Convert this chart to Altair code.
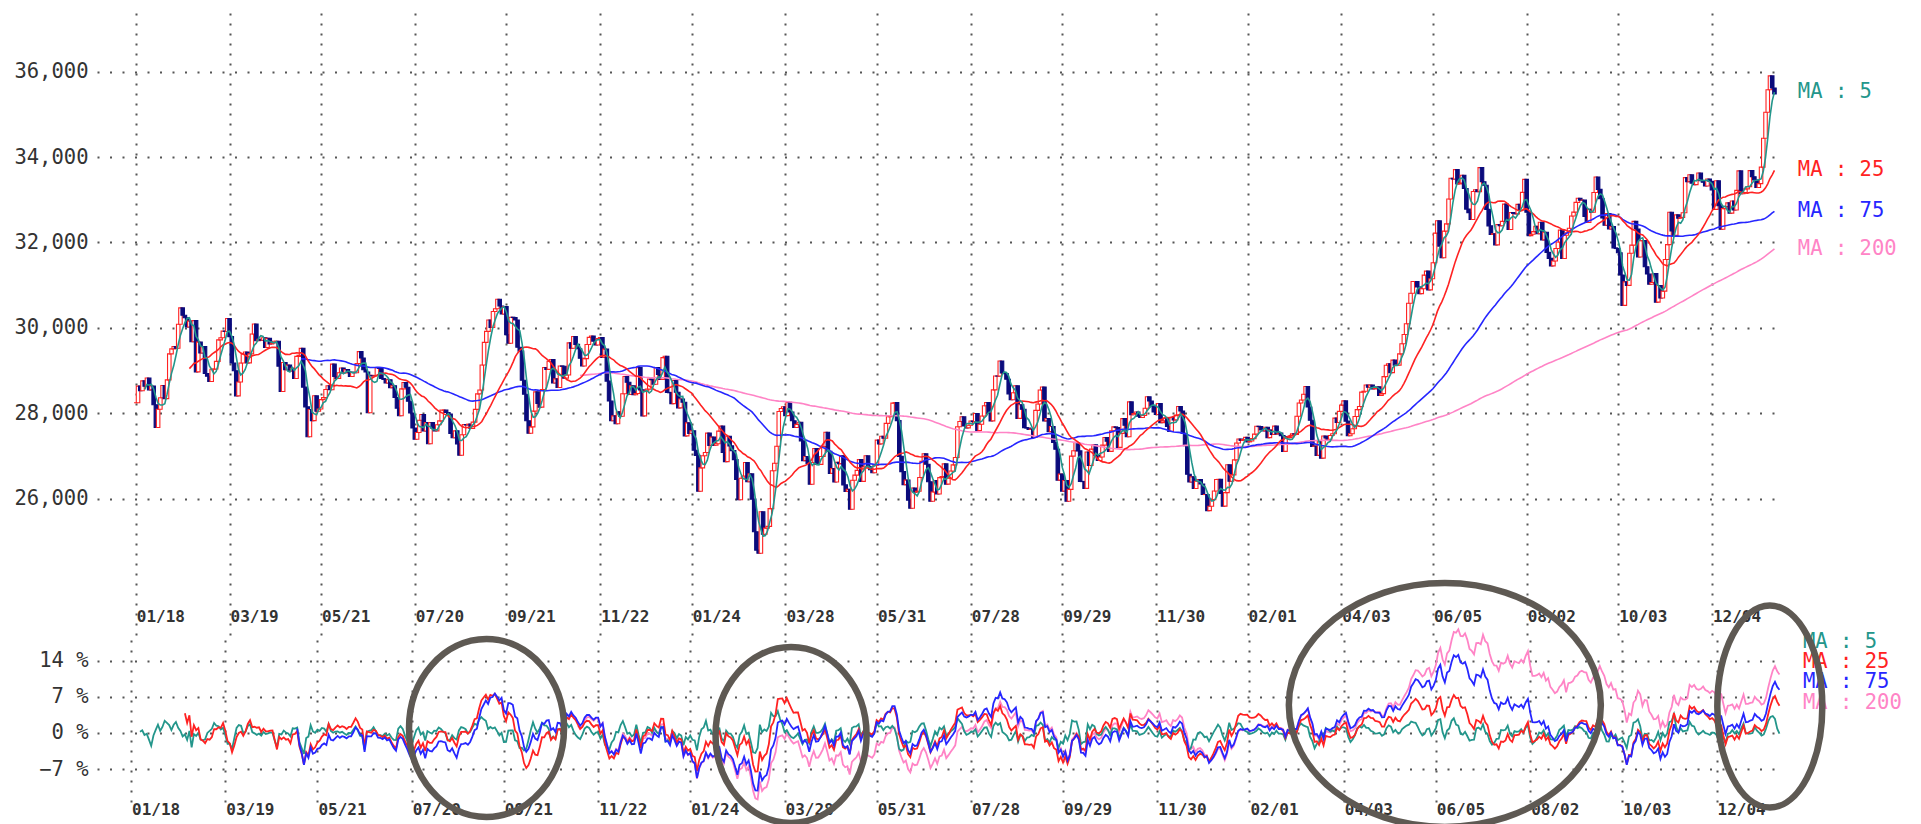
import altair as alt
import numpy as np
import pandas as pd

# ---------------- data: daily closes (by month) ----------------
c2021_01 = [28242, 28633, 28523, 28756, 28631, 28822, 28546, 28635, 28197, 27663]
c2021_02 = [28091, 28362, 28646, 28341, 28779, 29388, 29505, 29562, 29520, 30084, 30467, 30292, 30236, 30017, 30156, 29671, 30168, 28966]
c2021_03 = [29663, 29408, 29559, 28930, 28864, 28743, 29028, 29036, 29212, 29717, 29766, 29921, 29914, 30216, 29792, 29174, 28995, 28405, 28729, 29176, 29384, 29432, 29178]
c2021_04 = [29388, 29854, 30089, 29696, 29730, 29708, 29768, 29538, 29751, 29620, 29642, 29683, 29685, 29101, 28508, 29188, 29020, 29126, 28991, 29053, 28812]
c2021_05 = [29331, 29357, 29518, 28609, 28147, 27448, 28084, 27824, 28406, 28044, 28098, 28317, 28364, 28553, 28642, 28549, 29149, 28860]
c2021_06 = [28814, 28946, 29058, 28942, 29019, 28963, 28860, 28958, 28948, 29161, 29441, 29291, 29018, 28964, 28011, 28884, 28874, 28875, 29066, 29048, 28812, 28791]
c2021_07 = [28707, 28783, 28598, 28643, 28366, 28118, 27940, 28569, 28718, 28608, 28279, 28003, 27652, 27388, 27548, 27833, 27970, 27581, 27782, 27283]
c2021_08 = [27781, 27641, 27584, 27728, 27820, 28070, 28070, 28015, 27977, 27523, 27424, 27585, 27281, 27013, 27494, 27732, 27724, 27742, 27641, 27789, 28089]
c2021_09 = [28451, 28543, 29128, 29659, 29916, 30181, 30008, 30381, 30447, 30670, 30511, 30323, 30500, 29839, 29639, 30248, 30240, 30183, 29544, 29452]
c2021_10 = [28771, 28444, 27822, 27528, 27678, 28048, 28498, 28230, 28140, 28550, 29068, 29025, 29215, 29255, 28708, 28804, 28600, 29106, 29098, 28820, 28892]
c2021_11 = [29647, 29520, 29794, 29611, 29507, 29285, 29106, 29277, 29609, 29776, 29808, 29688, 29598, 29745, 29774, 29302, 29499, 28751, 28283, 27821]
c2021_12 = [27935, 27753, 28029, 27927, 28455, 28860, 28725, 28437, 28640, 28432, 28459, 29066, 28545, 27937, 28517, 28562, 28798, 28782, 28676, 29069, 28906, 28791]
c2022_01 = [29301, 29332, 28487, 28478, 28222, 28765, 28489, 28124, 28333, 28257, 27467, 27772, 27522, 27588, 27131, 27011, 26170, 26717, 27001]
c2022_02 = [27078, 27533, 27241, 27439, 27248, 27284, 27579, 27696, 27079, 26865, 27460, 27232, 27122, 26910, 26449, 25970, 26476, 26526]
c2022_03 = [26844, 26393, 26577, 25985, 25221, 24790, 24717, 25690, 25162, 25307, 25346, 25762, 26652, 26827, 27224, 28040, 28110, 28149, 27943, 28252, 28027, 27821]
c2022_04 = [27665, 27736, 27787, 27350, 26888, 26985, 26821, 26335, 26843, 27172, 26799, 26800, 26985, 27217, 27553, 27105, 26590, 26700, 26386, 26847]
c2022_05 = [26818, 27003, 26319, 26167, 26213, 25748, 26427, 26547, 26659, 26911, 26402, 26739, 27001, 26748, 26677, 26604, 26781, 27369, 27279]
c2022_06 = [27457, 27413, 27761, 27915, 27943, 28234, 28246, 27824, 26987, 26629, 26326, 26431, 25963, 25771, 26246, 26149, 26171, 26491, 26871, 27049, 26804, 26393]
c2022_07 = [25935, 26153, 26423, 26107, 26490, 26517, 26812, 26336, 26478, 26643, 26788, 26961, 27680, 27803, 27914, 27699, 27655, 27715, 27815, 27801]
c2022_08 = [27993, 27594, 27741, 27932, 28175, 28249, 27999, 27819, 28546, 28871, 28868, 29222, 28942, 28930, 28794, 28452, 28313, 28479, 28641, 27878, 28195, 28091]
c2022_09 = [27661, 27650, 27619, 27626, 27430, 28065, 28214, 28542, 28614, 27818, 27875, 27567, 27688, 27313, 27153, 26431, 26571, 26173, 26422, 25937]
c2022_10 = [26215, 26992, 27120, 27311, 27116, 26401, 26396, 26237, 27090, 26775, 27156, 27257, 27006, 26890, 26974, 27250, 27431, 27345, 27105, 27587]
c2022_11 = [27678, 27663, 27199, 27527, 27872, 27716, 27446, 28263, 27963, 27990, 28028, 27930, 27899, 27944, 28115, 28383, 28283, 28162, 28027, 27968]
c2022_12 = [28226, 27777, 27820, 27885, 27686, 27574, 27901, 27842, 27954, 28156, 28051, 27527, 27237, 26568, 26387, 26507, 26235, 26405, 26447, 26340, 26093, 26094]
c2023_01 = [25716, 25820, 25973, 26175, 26446, 26449, 26119, 25822, 26138, 26791, 26405, 26553, 26906, 27299, 27395, 27362, 27382, 27433, 27327]
c2023_02 = [27346, 27402, 27509, 27693, 27685, 27606, 27584, 27670, 27427, 27602, 27501, 27696, 27513, 27531, 27473, 27104, 27453, 27423, 27445]
c2023_03 = [27516, 27498, 27927, 28237, 28309, 28444, 28623, 28143, 27832, 27222, 27229, 27010, 27333, 26945, 27466, 27419, 27385, 27476, 27518, 27883, 27782, 28041]
c2023_04 = [28188, 28287, 27813, 27472, 27518, 27633, 27923, 28082, 28156, 28493, 28514, 28658, 28606, 28657, 28564, 28593, 28620, 28416, 28457, 28856]
c2023_05 = [29123, 29157, 28949, 29242, 29122, 29126, 29388, 29626, 29842, 30093, 30573, 30808, 31086, 31086, 30957, 30801, 30916, 31233, 31328, 30887]
c2023_06 = [31148, 31524, 32217, 32506, 31913, 31641, 32265, 32434, 33018, 33502, 33485, 33706, 33370, 33388, 33575, 33264, 32781, 32698, 32538, 33193, 33234, 33189]
c2023_07 = [33753, 33422, 33338, 32773, 32388, 32189, 32203, 31943, 32419, 32391, 32493, 32896, 32490, 32304, 32700, 32682, 32668, 32891, 32759, 33172]
c2023_08 = [33476, 32707, 32159, 32192, 32254, 32377, 32204, 32473, 32059, 32238, 31766, 31626, 31450, 31565, 31856, 32010, 32287, 31624, 32169, 32227, 32333, 32619]
c2023_09 = [32710, 32939, 33036, 32991, 32991, 32606, 32467, 32776, 32706, 33168, 33533, 33242, 33023, 32571, 32402, 32678, 32315, 32371, 31872, 31857]
c2023_10 = [31759, 31237, 30526, 31075, 30994, 31746, 31936, 32494, 32315, 31659, 32040, 32042, 31430, 31259, 31019, 31062, 31269, 30601, 30991, 30696, 30858]
c2023_11 = [31601, 31949, 32708, 32271, 32166, 32646, 32568, 32585, 32695, 33519, 33424, 33585, 33388, 33354, 33451, 33625, 33447, 33408, 33321, 33486]
c2023_12 = [33431, 33231, 32775, 33445, 32858, 32307, 32791, 32843, 32926, 32686, 32970, 32758, 33219, 33675, 33141, 33169, 33255, 33306, 33682, 33540, 33464]
c2024_01 = [33288, 33377, 33763, 34441, 35049, 35577, 35901, 35619, 35477]

# axis ticks / labels
tick_idx = [0, 42, 83, 125, 166, 208, 249, 291, 332, 374, 415, 457, 498, 540, 581, 623, 664, 706]
tick_lbl = ["01/18", "03/19", "05/21", "07/20", "09/21", "11/22", "01/24", "03/28", "05/31",
            "07/28", "09/29", "11/30", "02/01", "04/03", "06/05", "08/02", "10/03", "12/04"]
price_ticks = [26000, 28000, 30000, 32000, 34000, 36000]
pct_ticks = [-7, 0, 7, 14]

# moving averages
ma_windows = [5, 25, 75, 200]
ma_colors = ["#23968b", "#ff2222", "#2626ff", "#ff84c6"]

# hand-drawn highlight rings (bar index, deviation %, radius x px, radius y px)
ring_idx = [158.3, 293.9, 585.0, 729.7]
ring_pct = [0.97, -0.39, 5.44, 5.15]
ring_rx = [77.5, 75.5, 156.0, 52.5]
ring_ry = [89.0, 88.0, 122.0, 101.0]

# ---------------- styling ----------------
MONO = "DejaVu Sans Mono"
NAVY = "#0b0b7c"
GRID = "#555555"
TEXT = "#333333"
RING = "#5e5953"
W = 1680
H_UP = 627
H_LO = 163
X_DOM = [-15.14, 732.9]

closes = (c2021_01 + c2021_02 + c2021_03 + c2021_04 + c2021_05 + c2021_06 + c2021_07 + c2021_08
          + c2021_09 + c2021_10 + c2021_11 + c2021_12 + c2022_01 + c2022_02 + c2022_03 + c2022_04
          + c2022_05 + c2022_06 + c2022_07 + c2022_08 + c2022_09 + c2022_10 + c2022_11 + c2022_12
          + c2023_01 + c2023_02 + c2023_03 + c2023_04 + c2023_05 + c2023_06 + c2023_07 + c2023_08
          + c2023_09 + c2023_10 + c2023_11 + c2023_12 + c2024_01)
n = len(closes)

df = pd.DataFrame({"idx": np.arange(n), "close": np.array(closes, dtype=float)})
df["open"] = df["close"].shift(1)
df.loc[0, "open"] = df.loc[0, "close"]
for w in ma_windows:
    m = df["close"].rolling(w).mean()
    df[f"ma{w}"] = m.round(2)
    df[f"d{w}"] = ((df["close"] / m - 1.0) * 100.0).round(3)

ticks_df = pd.DataFrame({"idx": tick_idx, "label": tick_lbl})

xscale = alt.Scale(domain=X_DOM, nice=False, zero=False)
xaxis = alt.Axis(values=tick_idx, grid=True, labels=False, ticks=False, domain=False, title=None,
                 gridDash=[2, 8], gridColor=GRID, gridWidth=2, gridOpacity=1)
X = alt.X("idx:Q", scale=xscale, axis=xaxis)

# ---------------- upper panel ----------------
ys_up = alt.Scale(domain=[22685, 37375], nice=False, zero=False)
ya_up = alt.Axis(values=price_ticks, format=",d", grid=True, gridDash=[2, 10.5], gridColor=GRID,
                 gridWidth=2, gridOpacity=1, ticks=False, domain=False, labelPadding=9,
                 minExtent=89, maxExtent=89, title=None)

is_up = alt.datum.close >= alt.datum.open
candles = alt.Chart(df).mark_bar(width=3.5, strokeWidth=1.1).encode(
    x=X,
    y=alt.Y("open:Q", scale=ys_up, axis=ya_up),
    y2="close:Q",
    fill=alt.when(is_up).then(alt.value("white")).otherwise(alt.value(NAVY)),
    stroke=alt.when(is_up).then(alt.value("#ff2222")).otherwise(alt.value(NAVY)),
)

up_layers = [candles]
for w, col in zip([200, 75, 25, 5], ["#ff84c6", "#2626ff", "#ff2222", "#23968b"]):
    up_layers.append(
        alt.Chart(df).mark_line(color=col, strokeWidth=1.6).encode(
            x=X, y=alt.Y(f"ma{w}:Q", scale=ys_up, axis=ya_up)
        )
    )
for w, col in zip(ma_windows, ma_colors):
    up_layers.append(
        alt.Chart(df).transform_filter(alt.datum.idx == n - 1).mark_text(
            align="left", baseline="middle", dx=23.4, font=MONO, fontSize=20.5, color=col,
            text=f"MA : {w}"
        ).encode(x=X, y=alt.Y(f"ma{w}:Q", scale=ys_up, axis=ya_up))
    )
up_layers.append(
    alt.Chart(ticks_df).mark_text(
        align="left", baseline="middle", dx=1, font=MONO, fontSize=16, fontWeight="bold", color=TEXT
    ).encode(x=X, y=alt.value(603.5), text="label:N")
)
upper = alt.layer(*up_layers).properties(width=W, height=H_UP)

# ---------------- lower panel (deviation from MA, %) ----------------
ys_lo = alt.Scale(domain=[-13.61, 18.08], nice=False, zero=False)
ya_lo = alt.Axis(values=pct_ticks, labelExpr="format(datum.value, 'd') + ' %'", grid=True,
                 gridDash=[2, 10.5], gridColor=GRID, gridWidth=2, gridOpacity=1, ticks=False,
                 domain=False, labelPadding=9, minExtent=89, maxExtent=89, title=None)

lo_layers = []
for w, col in zip([200, 5, 25, 75], ["#ff84c6", "#23968b", "#ff2222", "#2626ff"]):
    lo_layers.append(
        alt.Chart(df).mark_line(color=col, strokeWidth=1.8).encode(
            x=X, y=alt.Y(f"d{w}:Q", scale=ys_lo, axis=ya_lo)
        )
    )
lo_layers.append(
    alt.Chart(ticks_df).mark_text(
        align="left", baseline="middle", dx=1, font=MONO, fontSize=16, fontWeight="bold", color=TEXT
    ).encode(x=X, y=alt.value(170), text="label:N")
)
for k, (w, col) in enumerate(zip(ma_windows, ma_colors)):
    lo_layers.append(
        alt.Chart(pd.DataFrame({"t": [f"MA : {w}"]})).mark_text(
            align="left", baseline="middle", font=MONO, fontSize=20.5, color=col
        ).encode(x=alt.value(1706), y=alt.value(1.7 + 20.3 * k), text="t:N")
    )

KAPPA = 0.5523
for cx, cy, rx, ry in zip(ring_idx, ring_pct, ring_rx, ring_ry):
    s = max(rx, ry)
    a, b = rx / s, ry / s
    ka, kb = KAPPA * a, KAPPA * b
    path = (f"M{a:.4f},0 C{a:.4f},{kb:.4f} {ka:.4f},{b:.4f} 0,{b:.4f} "
            f"C{-ka:.4f},{b:.4f} {-a:.4f},{kb:.4f} {-a:.4f},0 "
            f"C{-a:.4f},{-kb:.4f} {-ka:.4f},{-b:.4f} 0,{-b:.4f} "
            f"C{ka:.4f},{-b:.4f} {a:.4f},{-kb:.4f} {a:.4f},0 Z")
    lo_layers.append(
        alt.Chart(pd.DataFrame({"idx": [cx], "pct": [cy]})).mark_point(
            shape=path, size=(2 * s) ** 2, filled=False, strokeWidth=6.5, color=RING, opacity=1
        ).encode(x=X, y=alt.Y("pct:Q", scale=ys_lo, axis=ya_lo))
    )

lower = alt.layer(*lo_layers).properties(width=W, height=H_LO)

chart = alt.vconcat(upper, lower, spacing=0, bounds="flush").properties(
    padding={"left": 0, "top": 5, "right": 5, "bottom": 0}, background="white"
).configure_view(strokeWidth=0).configure_axis(
    labelFont=MONO, labelFontSize=20.5, labelColor=TEXT
)

chart.save("out.html", embed_options={"renderer": "svg", "actions": False})
